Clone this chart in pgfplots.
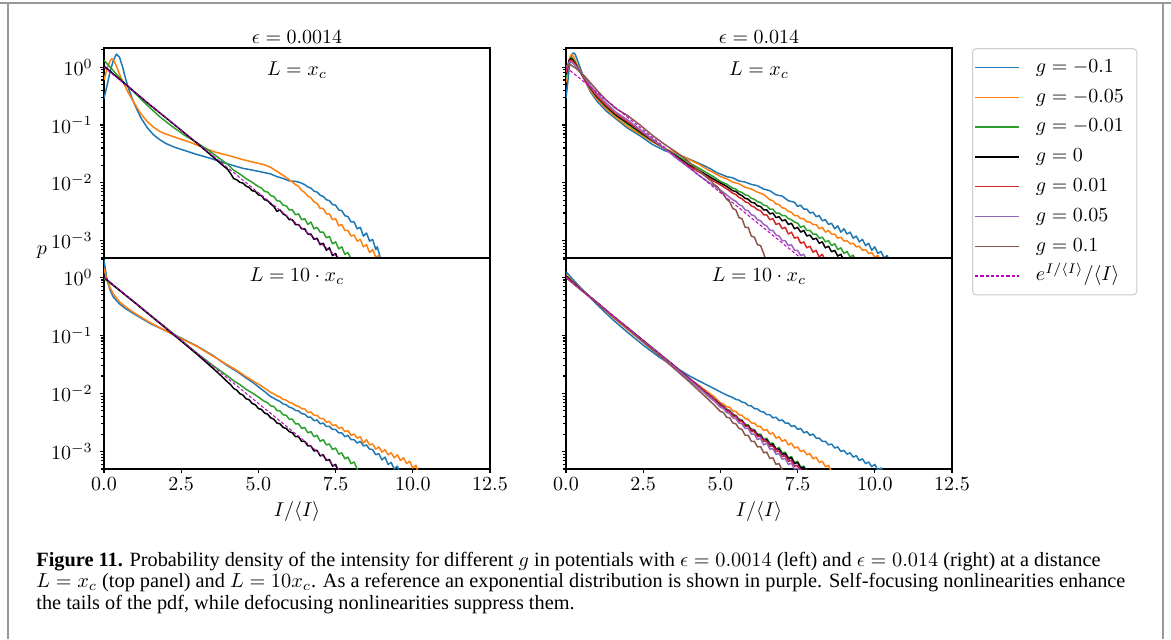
\documentclass[border=0pt]{standalone}
\usepackage{pgfplots}
\pgfplotsset{compat=1.18}
\usepackage{graphicx}
\usepackage{fontspec}
\newfontfamily\capfont{Liberation Serif}
\definecolor{c0}{HTML}{1F77B4}
\definecolor{c1}{HTML}{FF7F0E}
\definecolor{c2}{HTML}{2CA02C}
\definecolor{c3}{HTML}{D62728}
\definecolor{c4}{HTML}{9467BD}
\definecolor{c5}{HTML}{8C564B}
\definecolor{cmag}{rgb}{0.75,0,0.75}
\newcommand\tfont{\fontsize{10}{12}\selectfont}
\pgfplotsset{
    scale only axis, width=193pt,
    xmin=0, xmax=12.5, ymin=5e-4, ymax=2.15,
    clip mode=individual,
    axis line style={line width=0.55pt},
    tick style={black, line width=0.55pt},
    tick align=outside, tick pos=left,
    major tick length=2.2pt, minor tick length=1.3pt,
    ytick={1e-3,1e-2,1e-1,1},
    minor ytick={5e-4,6e-4,7e-4,8e-4,9e-4,2e-3,3e-3,4e-3,5e-3,6e-3,7e-3,8e-3,9e-3,0.02,0.03,0.04,0.05,0.06,0.07,0.08,0.09,0.2,0.3,0.4,0.5,0.6,0.7,0.8,0.9,2},
    xtick={0,2.5,5,7.5,10,12.5},
    xticklabels={$0.0$,$2.5$,$5.0$,$7.5$,$10.0$,$12.5$},
    tick label style={font=\tfont},
    xticklabel style={yshift=1.5pt},
    every axis plot/.append style={line width=0.75pt, line join=round},
}
\tikzset{refl/.style={color=cmag, line width=0.5pt, dash pattern=on 1.6pt off 1pt}}
\newcommand\capA{\textbf{Figure 11.} Probability density of the intensity for different $g$ in potentials with $\epsilon = 0.0014$ (left) and $\epsilon = 0.014$ (right) at a distance}
\newcommand\capB{$L = x_c$ (top panel) and $L = 10x_c$. As a reference an exponential distribution is shown in purple. Self-focusing nonlinearities enhance}
\newcommand\capC{the tails of the pdf, while defocusing nonlinearities suppress them.}
\newlength\capw
\begin{document}%
\settowidth\capw{\capfont\fontsize{10}{12}\selectfont \capB}%
\pgfmathsetmacro\capsc{544.5/\capw}%
\begin{tikzpicture}
\path[use as bounding box] (0,0) rectangle (585.5pt,-319.5pt);
\draw[black!40, line width=0.8pt] (0,-1.5pt) -- (585.5pt,-1.5pt);
\draw[black!40, line width=0.8pt] (4pt,-1.5pt) -- (4pt,-319.5pt);
\draw[black!40, line width=0.8pt] (581.5pt,-1.5pt) -- (581.5pt,-319.5pt);

% ---------------- top left ----------------
\begin{semilogyaxis}[height=105pt, xtick=\empty, at={(52pt,-24pt)}, anchor=north west]
\addplot[c0] coordinates {(0,0.29) (0.1,0.48) (0.2,0.85) (0.3,1.3) (0.4,1.68) (0.5,1.5) (0.6,1.02) (0.7,0.63) (0.8,0.42) (0.9,0.3) (1.0,0.22) (1.2,0.132) (1.4,0.09) (1.6,0.068) (1.8,0.056) (2.0,0.048) (2.3,0.041) (2.7,0.035) (3.0,0.031) (3.4,0.027) (3.8,0.023) (4.2,0.0198) (4.5,0.0178) (4.8,0.0166) (5.0,0.0158) (5.2,0.015) (5.4,0.0142) (5.6,0.0128) (5.8,0.0119) (6.0,0.0108) (6.2,0.0106) (6.35,0.0101) (6.5,0.0093) (6.6,0.0085) (6.7,0.0081) (6.8,0.0072) (6.9,0.0069) (7.0,0.0061) (7.1,0.0058) (7.2,0.0051) (7.3,0.0049) (7.4,0.0042) (7.5,0.0041) (7.6,0.0034) (7.7,0.0033) (7.8,0.0027) (7.9,0.0026) (8.0,0.0021) (8.1,0.0021) (8.2,0.0016) (8.3,0.0017) (8.4,0.0012) (8.5,0.00135) (8.6,0.00098) (8.7,0.00105) (8.8,0.0007) (8.85,0.00078) (8.95,0.0005) (9.0,0.0004)};
\addplot[c1] coordinates {(0,0.6) (0.1,0.95) (0.2,1.3) (0.25,1.4) (0.3,1.35) (0.4,1.05) (0.5,0.76) (0.6,0.58) (0.7,0.45) (0.8,0.35) (1.0,0.23) (1.2,0.155) (1.4,0.115) (1.6,0.092) (1.8,0.078) (2.0,0.07) (2.4,0.059) (2.8,0.05) (3.2,0.041) (3.6,0.034) (4.0,0.03) (4.4,0.026) (4.8,0.023) (5.2,0.0205) (5.4,0.0185) (5.6,0.0158) (5.8,0.0135) (6.0,0.0113) (6.1,0.0103) (6.2,0.0093) (6.3,0.0087) (6.4,0.0074) (6.5,0.0068) (6.6,0.0059) (6.7,0.0055) (6.8,0.0047) (6.9,0.0044) (7.0,0.0036) (7.1,0.0036) (7.2,0.0029) (7.3,0.0029) (7.4,0.0023) (7.5,0.0024) (7.6,0.0018) (7.7,0.0019) (7.8,0.0015) (7.9,0.0015) (8.0,0.0012) (8.1,0.00125) (8.2,0.00098) (8.3,0.00105) (8.4,0.00078) (8.5,0.00085) (8.6,0.00062) (8.7,0.0007) (8.8,0.00052) (8.9,0.00055) (9.0,0.0004)};
\addplot[c2] coordinates {(0,1.32) (0.2,1.0) (0.4,0.76) (0.6,0.58) (0.8,0.45) (1.0,0.36) (1.4,0.22) (1.8,0.14) (2.2,0.095) (2.6,0.067) (3.0,0.05) (3.4,0.036) (3.8,0.025) (4.0,0.021) (4.2,0.0165) (4.4,0.0142) (4.6,0.0118) (4.8,0.0102) (5.0,0.0086) (5.1,0.0081) (5.2,0.0071) (5.3,0.0069) (5.4,0.006) (5.5,0.0058) (5.6,0.0049) (5.7,0.0048) (5.8,0.0041) (5.9,0.004) (6.0,0.0034) (6.1,0.0034) (6.2,0.0028) (6.3,0.0029) (6.4,0.0023) (6.5,0.0024) (6.6,0.0019) (6.7,0.0021) (6.8,0.0016) (6.9,0.0017) (7.0,0.0014) (7.1,0.0014) (7.2,0.00112) (7.3,0.00118) (7.4,0.00088) (7.5,0.00095) (7.6,0.00072) (7.7,0.00078) (7.8,0.00058) (7.9,0.00062) (8.0,0.00048) (8.1,0.0004)};
\addplot[black] coordinates {(0,1.05) (0.5,0.62) (1.0,0.37) (1.5,0.22) (2.0,0.134) (2.5,0.081) (3.0,0.049) (3.5,0.029) (3.8,0.021) (4.0,0.0172) (4.1,0.0145) (4.2,0.0118) (4.3,0.0113) (4.4,0.0102) (4.5,0.0099) (4.6,0.0088) (4.7,0.0083) (4.8,0.0073) (4.9,0.0071) (5.0,0.0062) (5.1,0.006) (5.2,0.0051) (5.3,0.0049) (5.4,0.0043) (5.5,0.0039) (5.6,0.0032) (5.7,0.0034) (5.8,0.0029) (5.9,0.0027) (6.0,0.0023) (6.1,0.0023) (6.2,0.0019) (6.3,0.0019) (6.4,0.0016) (6.5,0.0016) (6.6,0.0013) (6.7,0.0013) (6.8,0.00105) (6.9,0.0011) (7.0,0.00085) (7.1,0.0009) (7.2,0.00068) (7.3,0.00075) (7.4,0.00055) (7.5,0.0006) (7.6,0.00045)};
\addplot[refl] coordinates {(0,1) (8,3.354e-4)};
\node[anchor=base, font=\tfont, yshift=2.4pt] at (rel axis cs:0.5,1) {$\epsilon = 0.0014$};
\node[anchor=base, font=\tfont] at (rel axis cs:0.5,0.867) {$L = x_c$};
\end{semilogyaxis}

% ---------------- bottom left ----------------
\begin{semilogyaxis}[height=105.5pt, at={(52pt,-129pt)}, anchor=north west]
\addplot[c0] coordinates {(0,2.0) (0.05,1.3) (0.1,0.9) (0.2,0.6) (0.3,0.46) (0.5,0.35) (0.7,0.29) (1.0,0.23) (1.5,0.16) (2.0,0.12) (2.5,0.09) (3.0,0.066) (3.5,0.046) (4.0,0.03) (4.3,0.024) (4.6,0.0185) (4.8,0.0158) (5.0,0.013) (5.2,0.0108) (5.4,0.0088) (5.5,0.0083) (5.6,0.0077) (5.7,0.0073) (5.8,0.0066) (5.9,0.0064) (6.0,0.0058) (6.1,0.0056) (6.2,0.0051) (6.3,0.005) (6.4,0.0045) (6.5,0.0044) (6.6,0.0039) (6.7,0.0039) (6.8,0.0034) (6.9,0.0035) (7.0,0.003) (7.1,0.0031) (7.2,0.0027) (7.3,0.0027) (7.4,0.0024) (7.5,0.0024) (7.6,0.0021) (7.7,0.0021) (7.8,0.0018) (7.9,0.0019) (8.0,0.0016) (8.1,0.0016) (8.2,0.0014) (8.3,0.0015) (8.4,0.00125) (8.5,0.0013) (8.6,0.0011) (8.7,0.00108) (8.8,0.00088) (8.9,0.00092) (9.0,0.00072) (9.1,0.0008) (9.2,0.0006) (9.3,0.00065) (9.4,0.0005) (9.5,0.00056) (9.6,0.0004)};
\addplot[c1] coordinates {(0,1.45) (0.05,1.1) (0.1,0.9) (0.2,0.66) (0.3,0.52) (0.5,0.38) (0.7,0.31) (1.0,0.24) (1.5,0.165) (2.0,0.12) (2.5,0.088) (3.0,0.065) (3.5,0.045) (4.0,0.031) (4.3,0.025) (4.6,0.0195) (4.8,0.0168) (5.0,0.0145) (5.2,0.0124) (5.4,0.0104) (5.5,0.0099) (5.6,0.0091) (5.7,0.0087) (5.8,0.0079) (5.9,0.0077) (6.0,0.007) (6.1,0.0068) (6.2,0.0062) (6.3,0.006) (6.4,0.0055) (6.5,0.0054) (6.6,0.0047) (6.7,0.0048) (6.8,0.0042) (6.9,0.0042) (7.0,0.0037) (7.1,0.0037) (7.2,0.0032) (7.3,0.0033) (7.4,0.0028) (7.5,0.0029) (7.6,0.0025) (7.7,0.0026) (7.8,0.0022) (7.9,0.0023) (8.0,0.0019) (8.1,0.002) (8.2,0.0017) (8.3,0.0018) (8.4,0.0014) (8.5,0.0016) (8.6,0.0013) (8.7,0.00135) (8.8,0.0011) (8.9,0.0012) (9.0,0.00098) (9.1,0.00108) (9.2,0.00088) (9.3,0.00095) (9.4,0.00078) (9.5,0.00088) (9.6,0.0007) (9.7,0.00078) (9.8,0.00062) (9.9,0.00068) (10.0,0.00052) (10.1,0.00058) (10.2,0.0004)};
\addplot[c2] coordinates {(0,0.95) (0.5,0.6) (1.0,0.37) (1.5,0.225) (2.0,0.137) (2.5,0.083) (3.0,0.05) (3.5,0.031) (4.0,0.02) (4.2,0.0165) (4.4,0.0142) (4.6,0.0118) (4.8,0.0102) (5.0,0.0087) (5.1,0.0079) (5.2,0.0073) (5.3,0.0069) (5.4,0.0061) (5.5,0.006) (5.6,0.0051) (5.7,0.005) (5.8,0.0043) (5.9,0.0042) (6.0,0.0036) (6.1,0.0036) (6.2,0.003) (6.3,0.003) (6.4,0.0025) (6.5,0.0026) (6.6,0.0021) (6.7,0.0022) (6.8,0.0018) (6.9,0.0019) (7.0,0.0015) (7.1,0.0016) (7.2,0.0013) (7.3,0.00135) (7.4,0.00108) (7.5,0.00115) (7.6,0.0009) (7.7,0.00095) (7.8,0.00075) (7.9,0.0008) (8.0,0.00062) (8.1,0.00066) (8.2,0.0005) (8.3,0.0004)};
\addplot[black] coordinates {(0,1.0) (0.5,0.6) (1.0,0.365) (1.5,0.22) (2.0,0.133) (2.5,0.08) (3.0,0.048) (3.5,0.028) (3.8,0.02) (4.0,0.0158) (4.1,0.0142) (4.2,0.0122) (4.3,0.0114) (4.4,0.0099) (4.5,0.0094) (4.6,0.0081) (4.7,0.0078) (4.8,0.0067) (4.9,0.0064) (5.0,0.0055) (5.1,0.0053) (5.2,0.0046) (5.3,0.0044) (5.4,0.0038) (5.5,0.0036) (5.6,0.0031) (5.7,0.003) (5.8,0.0026) (5.9,0.0025) (6.0,0.0022) (6.1,0.0021) (6.2,0.0018) (6.3,0.0018) (6.4,0.0015) (6.5,0.0015) (6.6,0.00125) (6.7,0.00125) (6.8,0.00102) (6.9,0.00105) (7.0,0.00084) (7.1,0.00088) (7.2,0.0007) (7.3,0.00073) (7.4,0.00056) (7.5,0.0006) (7.6,0.00045)};
\addplot[refl] coordinates {(0,1) (8,3.354e-4)};
\node[anchor=base, font=\tfont] at (rel axis cs:0.5,0.891) {$L = 10\cdot x_c$};
\end{semilogyaxis}

% ---------------- top right ----------------
\begin{semilogyaxis}[height=105pt, xtick=\empty, yticklabel=\empty, at={(283pt,-24pt)}, anchor=north west,
  legend style={at={(1.0518,1)}, anchor=north west, draw=black!20, rounded corners=2pt, line width=0.5pt, fill=white,
    inner xsep=1pt, inner ysep=2pt, font=\tfont,
    nodes={inner xsep=2.5pt, inner ysep=2.4pt, text height=7.5pt, text depth=2.6pt},
    /tikz/every even column/.append style={column sep=3pt}},
  legend cell align=left,
  legend image code/.code={\draw[#1, line width=0.7pt] (0pt,0pt) -- (22pt,0pt); \path (27.5pt,0pt);},
]
\addplot[c0] coordinates {(0,0.29) (0.05,0.5) (0.1,0.95) (0.15,1.4) (0.2,1.7) (0.25,1.77) (0.3,1.65) (0.4,1.2) (0.5,0.85) (0.6,0.62) (0.7,0.47) (0.8,0.37) (1.0,0.26) (1.3,0.175) (1.6,0.13) (2.0,0.088) (2.4,0.065) (2.8,0.046) (3.2,0.036) (3.6,0.031) (3.9,0.027) (4.2,0.023) (4.5,0.0195) (4.7,0.0172) (4.9,0.0148) (5.0,0.0142) (5.2,0.0128) (5.4,0.0122) (5.6,0.0108) (5.8,0.0103) (6.0,0.0094) (6.2,0.0089) (6.4,0.0078) (6.6,0.0073) (6.8,0.0062) (7.0,0.0059) (7.2,0.0049) (7.4,0.0046) (7.5,0.0039) (7.6,0.0041) (7.7,0.0035) (7.8,0.0035) (7.9,0.003) (8.0,0.0031) (8.1,0.0026) (8.2,0.0027) (8.3,0.0022) (8.4,0.0023) (8.5,0.0019) (8.6,0.002) (8.7,0.0016) (8.8,0.0018) (8.9,0.0014) (9.0,0.0016) (9.1,0.0013) (9.2,0.0014) (9.3,0.0011) (9.4,0.0012) (9.5,0.00095) (9.6,0.00105) (9.7,0.00082) (9.8,0.0009) (9.9,0.00068) (10.0,0.00078) (10.1,0.0006) (10.2,0.00065) (10.3,0.0005) (10.4,0.00055) (10.5,0.0004)};
\addlegendentry{\makebox[47pt][l]{$g=-0.1$}}
\addplot[c1] coordinates {(0,0.55) (0.05,0.9) (0.1,1.35) (0.15,1.6) (0.2,1.65) (0.25,1.5) (0.3,1.3) (0.4,1.0) (0.5,0.78) (0.6,0.6) (0.8,0.39) (1.0,0.28) (1.3,0.19) (1.6,0.137) (2.0,0.094) (2.4,0.069) (2.8,0.051) (3.2,0.039) (3.6,0.032) (4.0,0.025) (4.3,0.021) (4.6,0.0168) (4.8,0.0148) (5.0,0.0129) (5.2,0.0117) (5.4,0.0103) (5.6,0.0096) (5.8,0.0084) (6.0,0.0078) (6.2,0.0069) (6.4,0.0063) (6.6,0.0051) (6.7,0.0049) (6.8,0.0043) (6.9,0.0042) (7.0,0.0037) (7.1,0.0036) (7.2,0.0032) (7.3,0.0031) (7.4,0.0027) (7.5,0.0027) (7.6,0.0024) (7.7,0.0024) (7.8,0.0021) (7.9,0.0021) (8.0,0.0019) (8.1,0.0019) (8.2,0.0016) (8.3,0.0017) (8.4,0.0014) (8.5,0.0015) (8.6,0.0013) (8.7,0.0013) (8.8,0.0011) (8.9,0.00115) (9.0,0.00098) (9.1,0.001) (9.2,0.00088) (9.3,0.0009) (9.4,0.00078) (9.5,0.0008) (9.6,0.00068) (9.7,0.0007) (9.8,0.0006) (9.9,0.00062) (10.0,0.00052) (10.1,0.00055) (10.2,0.00045) (10.3,0.0004)};
\addlegendentry{\makebox[47pt][l]{$g=-0.05$}}
\addplot[c2] coordinates {(0,0.65) (0.1,1.3) (0.15,1.45) (0.2,1.45) (0.3,1.2) (0.4,0.95) (0.5,0.76) (0.6,0.62) (0.8,0.42) (1.0,0.3) (1.3,0.205) (1.6,0.147) (2.0,0.103) (2.4,0.073) (2.8,0.053) (3.2,0.039) (3.6,0.029) (4.0,0.022) (4.3,0.018) (4.6,0.0145) (4.8,0.0125) (5.0,0.0106) (5.2,0.0095) (5.4,0.0081) (5.5,0.0078) (5.6,0.0071) (5.7,0.0068) (5.8,0.0062) (5.9,0.006) (6.0,0.0054) (6.1,0.0052) (6.2,0.0047) (6.3,0.0046) (6.4,0.0041) (6.5,0.004) (6.6,0.0035) (6.7,0.0035) (6.8,0.003) (6.9,0.003) (7.0,0.0027) (7.1,0.0027) (7.2,0.0024) (7.3,0.0023) (7.4,0.0021) (7.5,0.002) (7.6,0.0017) (7.7,0.0018) (7.8,0.0015) (7.9,0.0015) (8.0,0.0013) (8.1,0.0013) (8.2,0.0011) (8.3,0.00115) (8.4,0.00095) (8.5,0.001) (8.6,0.00082) (8.7,0.00088) (8.8,0.0007) (8.9,0.00075) (9.0,0.0006) (9.1,0.00065) (9.2,0.00052) (9.3,0.00056) (9.4,0.00044)};
\addlegendentry{\makebox[47pt][l]{$g=-0.01$}}
\addplot[black] coordinates {(0,0.75) (0.1,1.3) (0.15,1.4) (0.2,1.38) (0.3,1.15) (0.4,0.93) (0.5,0.76) (0.6,0.63) (0.8,0.43) (1.0,0.31) (1.3,0.212) (1.6,0.152) (2.0,0.108) (2.4,0.076) (2.8,0.054) (3.2,0.039) (3.6,0.028) (4.0,0.02) (4.3,0.0165) (4.6,0.0132) (4.8,0.0114) (5.0,0.0099) (5.2,0.0087) (5.4,0.0073) (5.5,0.0071) (5.6,0.0064) (5.7,0.006) (5.8,0.0054) (5.9,0.0052) (6.0,0.0046) (6.1,0.0045) (6.2,0.004) (6.3,0.0039) (6.4,0.0034) (6.5,0.0034) (6.6,0.0029) (6.7,0.003) (6.8,0.0025) (6.9,0.0026) (7.0,0.0022) (7.1,0.0023) (7.2,0.0019) (7.3,0.002) (7.4,0.0016) (7.5,0.0017) (7.6,0.0014) (7.7,0.0015) (7.8,0.0012) (7.9,0.00125) (8.0,0.00105) (8.1,0.0011) (8.2,0.0009) (8.3,0.00095) (8.4,0.00075) (8.5,0.0008) (8.6,0.00064) (8.7,0.00068) (8.8,0.00054) (8.9,0.00058) (9.0,0.00045)};
\addlegendentry{\makebox[47pt][l]{$g=0$}}
\addplot[c3] coordinates {(0,0.8) (0.1,1.25) (0.15,1.32) (0.2,1.3) (0.3,1.12) (0.4,0.93) (0.5,0.77) (0.6,0.64) (0.8,0.44) (1.0,0.32) (1.3,0.22) (1.6,0.158) (2.0,0.113) (2.4,0.079) (2.8,0.055) (3.2,0.039) (3.6,0.027) (4.0,0.019) (4.3,0.0155) (4.6,0.0124) (4.8,0.0106) (5.0,0.0092) (5.2,0.0079) (5.4,0.0066) (5.5,0.0063) (5.6,0.0056) (5.7,0.0053) (5.8,0.0047) (5.9,0.0045) (6.0,0.004) (6.1,0.0038) (6.2,0.0034) (6.3,0.0033) (6.4,0.0028) (6.5,0.0028) (6.6,0.0023) (6.7,0.0024) (6.8,0.0019) (6.9,0.002) (7.0,0.0016) (7.1,0.0017) (7.2,0.0013) (7.3,0.0014) (7.4,0.0011) (7.5,0.00115) (7.6,0.0009) (7.7,0.00095) (7.8,0.00075) (7.9,0.0008) (8.0,0.00063) (8.1,0.00068) (8.2,0.00052) (8.3,0.00058) (8.4,0.00045) (8.5,0.0005) (8.6,0.0004)};
\addlegendentry{\makebox[47pt][l]{$g=0.01$}}
\addplot[c4] coordinates {(0,0.95) (0.1,1.2) (0.15,1.23) (0.2,1.2) (0.3,1.07) (0.4,0.92) (0.5,0.79) (0.6,0.67) (0.8,0.47) (1.0,0.35) (1.3,0.24) (1.6,0.17) (2.0,0.122) (2.4,0.083) (2.8,0.057) (3.2,0.039) (3.6,0.026) (4.0,0.018) (4.3,0.0135) (4.6,0.0104) (4.8,0.0088) (5.0,0.0075) (5.2,0.0062) (5.4,0.0051) (5.5,0.0048) (5.6,0.0042) (5.7,0.004) (5.8,0.0034) (5.9,0.0033) (6.0,0.0028) (6.1,0.0027) (6.2,0.0023) (6.3,0.0022) (6.4,0.0019) (6.5,0.0018) (6.6,0.0015) (6.7,0.0015) (6.8,0.00125) (6.9,0.0012) (7.0,0.001) (7.1,0.001) (7.2,0.00082) (7.3,0.00085) (7.4,0.00068) (7.5,0.00068) (7.6,0.00055) (7.7,0.00058) (7.8,0.00045)};
\addlegendentry{\makebox[47pt][l]{$g=0.05$}}
\addplot[c5] coordinates {(0,1.05) (0.1,1.12) (0.15,1.1) (0.2,1.05) (0.3,0.98) (0.4,0.88) (0.5,0.78) (0.6,0.7) (0.8,0.53) (1.0,0.4) (1.3,0.27) (1.6,0.195) (2.0,0.145) (2.4,0.1) (2.8,0.066) (3.2,0.046) (3.6,0.033) (3.9,0.025) (4.2,0.018) (4.4,0.0148) (4.6,0.0118) (4.7,0.0108) (4.8,0.0093) (4.9,0.0086) (5.0,0.0071) (5.1,0.0064) (5.2,0.0052) (5.3,0.0047) (5.4,0.0036) (5.5,0.0034) (5.6,0.0025) (5.7,0.0024) (5.8,0.0017) (5.9,0.0017) (6.0,0.0012) (6.1,0.00115) (6.2,0.00085) (6.3,0.00082) (6.4,0.0006) (6.45,0.0005) (6.5,0.0004)};
\addlegendentry{\makebox[47pt][l]{$g=0.1$}}
\addplot[refl] coordinates {(0,1) (8,3.354e-4)};
\addlegendentry{\makebox[47pt][l]{$e^{I/\langle I\rangle}/\langle I\rangle$}}
\node[anchor=base, font=\tfont, yshift=2.4pt] at (rel axis cs:0.5,1) {$\epsilon = 0.014$};
\node[anchor=base, font=\tfont] at (rel axis cs:0.5,0.867) {$L = x_c$};
\end{semilogyaxis}

% ---------------- bottom right ----------------
\begin{semilogyaxis}[height=105.5pt, yticklabel=\empty, at={(283pt,-129pt)}, anchor=north west]
\addplot[c0] coordinates {(0,1.25) (0.2,0.95) (0.5,0.64) (1.0,0.34) (1.5,0.19) (2.0,0.112) (2.5,0.068) (3.0,0.043) (3.5,0.029) (4.0,0.02) (4.3,0.0165) (4.6,0.0137) (4.8,0.0121) (5.0,0.0106) (5.2,0.0094) (5.4,0.0085) (5.5,0.0079) (5.6,0.0077) (5.7,0.0071) (5.8,0.0069) (5.9,0.0062) (6.0,0.0061) (6.1,0.0055) (6.2,0.0054) (6.3,0.0049) (6.4,0.0048) (6.5,0.0043) (6.6,0.0043) (6.7,0.0038) (6.8,0.0039) (6.9,0.0034) (7.0,0.0035) (7.1,0.0031) (7.2,0.0031) (7.3,0.0027) (7.4,0.0028) (7.5,0.0024) (7.6,0.0025) (7.7,0.0021) (7.8,0.0022) (7.9,0.0019) (8.0,0.002) (8.1,0.0017) (8.2,0.0017) (8.3,0.0015) (8.4,0.0015) (8.5,0.0013) (8.6,0.00135) (8.7,0.00115) (8.8,0.0012) (8.9,0.001) (9.0,0.00105) (9.1,0.0009) (9.2,0.00095) (9.3,0.0008) (9.4,0.00085) (9.5,0.0007) (9.6,0.00075) (9.7,0.00062) (9.8,0.00066) (9.9,0.00055) (10.0,0.0006) (10.1,0.00048) (10.2,0.00052) (10.3,0.0004)};
\addplot[c1] coordinates {(0,1.1) (0.5,0.62) (1.0,0.36) (1.5,0.21) (2.0,0.125) (2.5,0.076) (3.0,0.047) (3.5,0.029) (4.0,0.018) (4.3,0.0138) (4.6,0.0105) (4.8,0.0088) (5.0,0.0069) (5.1,0.0066) (5.2,0.0059) (5.3,0.0058) (5.4,0.005) (5.5,0.0049) (5.6,0.0043) (5.7,0.0042) (5.8,0.0037) (5.9,0.0036) (6.0,0.0031) (6.1,0.0031) (6.2,0.0027) (6.3,0.0027) (6.4,0.0023) (6.5,0.0024) (6.6,0.002) (6.7,0.0021) (6.8,0.0017) (6.9,0.0018) (7.0,0.0015) (7.1,0.0016) (7.2,0.0013) (7.3,0.0014) (7.4,0.00115) (7.5,0.0012) (7.6,0.001) (7.7,0.00105) (7.8,0.00088) (7.9,0.00092) (8.0,0.00075) (8.1,0.0008) (8.2,0.00065) (8.3,0.00068) (8.4,0.00055) (8.5,0.00058) (8.6,0.00045)};
\addplot[c2] coordinates {(0,1.05) (0.5,0.61) (1.0,0.37) (1.5,0.22) (2.0,0.135) (2.5,0.082) (3.0,0.05) (3.5,0.03) (4.0,0.018) (4.3,0.0131) (4.6,0.0097) (4.8,0.008) (5.0,0.0065) (5.1,0.0061) (5.2,0.0053) (5.3,0.0051) (5.4,0.0044) (5.5,0.0042) (5.6,0.0036) (5.7,0.0035) (5.8,0.0029) (5.9,0.0029) (6.0,0.0024) (6.1,0.0024) (6.2,0.002) (6.3,0.002) (6.4,0.0016) (6.5,0.0017) (6.6,0.0014) (6.7,0.0014) (6.8,0.0011) (6.9,0.00118) (7.0,0.00095) (7.1,0.00098) (7.2,0.00078) (7.3,0.00082) (7.4,0.00064) (7.5,0.00068) (7.6,0.00054) (7.7,0.00056) (7.8,0.00045)};
\addplot[black] coordinates {(0,1.05) (0.5,0.61) (1.0,0.37) (1.5,0.22) (2.0,0.134) (2.5,0.081) (3.0,0.049) (3.5,0.03) (4.0,0.0178) (4.3,0.013) (4.6,0.0096) (4.8,0.0078) (5.0,0.0063) (5.1,0.0059) (5.2,0.0052) (5.3,0.0049) (5.4,0.0042) (5.5,0.0041) (5.6,0.0034) (5.7,0.0034) (5.8,0.0028) (5.9,0.0028) (6.0,0.0023) (6.1,0.0023) (6.2,0.0019) (6.3,0.0019) (6.4,0.0016) (6.5,0.0016) (6.6,0.0013) (6.7,0.00135) (6.8,0.0011) (6.9,0.0011) (7.0,0.0009) (7.1,0.00092) (7.2,0.00075) (7.3,0.00078) (7.4,0.00062) (7.5,0.00065) (7.6,0.00052) (7.7,0.00054) (7.8,0.00043)};
\addplot[c3] coordinates {(0,1.0) (0.5,0.6) (1.0,0.365) (1.5,0.22) (2.0,0.133) (2.5,0.08) (3.0,0.049) (3.5,0.0295) (4.0,0.0175) (4.3,0.0128) (4.6,0.0094) (4.8,0.0077) (5.0,0.0062) (5.1,0.0058) (5.2,0.005) (5.3,0.0048) (5.4,0.0041) (5.5,0.004) (5.6,0.0033) (5.7,0.0033) (5.8,0.0027) (5.9,0.0027) (6.0,0.0022) (6.1,0.0022) (6.2,0.0018) (6.3,0.0018) (6.4,0.0015) (6.5,0.0015) (6.6,0.00122) (6.7,0.00125) (6.8,0.001) (6.9,0.00102) (7.0,0.00082) (7.1,0.00085) (7.2,0.00068) (7.3,0.0007) (7.4,0.00056) (7.5,0.00058) (7.6,0.00046) (7.7,0.0004)};
\addplot[c4] coordinates {(0,1.0) (0.5,0.6) (1.0,0.365) (1.5,0.22) (2.0,0.132) (2.5,0.079) (3.0,0.048) (3.5,0.029) (4.0,0.017) (4.3,0.0124) (4.6,0.009) (4.8,0.0074) (5.0,0.0058) (5.1,0.0055) (5.2,0.0047) (5.3,0.0045) (5.4,0.0038) (5.5,0.0037) (5.6,0.0031) (5.7,0.003) (5.8,0.0025) (5.9,0.0025) (6.0,0.002) (6.1,0.002) (6.2,0.0016) (6.3,0.0017) (6.4,0.0013) (6.5,0.0014) (6.6,0.0011) (6.7,0.00112) (6.8,0.0009) (6.9,0.00092) (7.0,0.00074) (7.1,0.00076) (7.2,0.0006) (7.3,0.00063) (7.4,0.0005) (7.5,0.00052) (7.6,0.0004)};
\addplot[c5] coordinates {(0,1.0) (0.5,0.6) (1.0,0.36) (1.5,0.215) (2.0,0.13) (2.5,0.077) (3.0,0.046) (3.5,0.027) (4.0,0.0158) (4.3,0.0112) (4.6,0.008) (4.8,0.0063) (5.0,0.0049) (5.1,0.0047) (5.2,0.0039) (5.3,0.0038) (5.4,0.0031) (5.5,0.003) (5.6,0.0025) (5.7,0.0024) (5.8,0.0019) (5.9,0.0019) (6.0,0.0015) (6.1,0.0015) (6.2,0.0012) (6.3,0.00122) (6.4,0.00095) (6.5,0.00098) (6.6,0.00076) (6.7,0.00078) (6.8,0.0006) (6.9,0.00062) (7.0,0.00048) (7.1,0.0004)};
\addplot[refl] coordinates {(0,1) (8,3.354e-4)};
\node[anchor=base, font=\tfont] at (rel axis cs:0.5,0.891) {$L = 10\cdot x_c$};
\end{semilogyaxis}

% labels
\node[anchor=base, font=\tfont] at (21pt,-127pt) {$p$};
\node[anchor=base, font=\tfont] at (148.5pt,-258pt) {$I/\langle I\rangle$};
\node[anchor=base, font=\tfont] at (379.5pt,-258pt) {$I/\langle I\rangle$};

% caption
\node[anchor=base west, inner sep=0pt] at (18pt,-283pt) {\scalebox{\capsc}{\capfont\fontsize{10}{12}\selectfont\capA}};
\node[anchor=base west, inner sep=0pt] at (18pt,-293.75pt) {\scalebox{\capsc}{\capfont\fontsize{10}{12}\selectfont\capB}};
\node[anchor=base west, inner sep=0pt] at (18pt,-304.5pt) {\scalebox{\capsc}{\capfont\fontsize{10}{12}\selectfont\capC}};
\end{tikzpicture}%
\end{document}
